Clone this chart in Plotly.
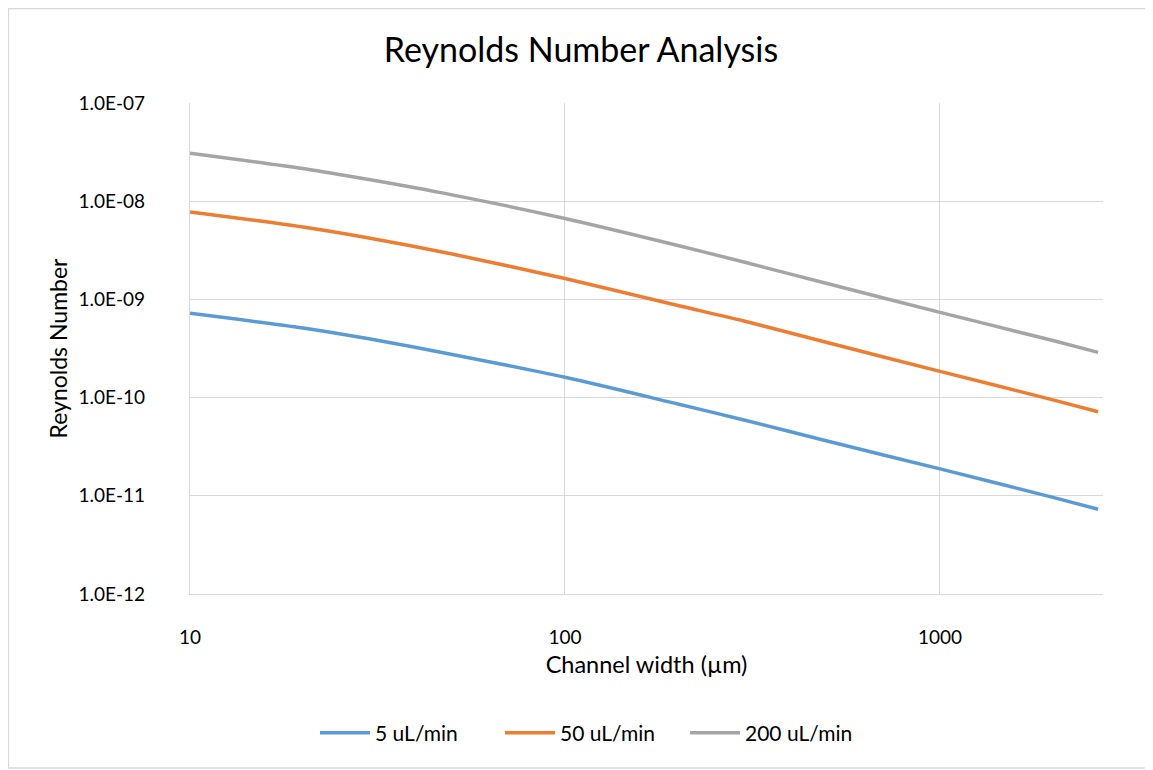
import plotly.graph_objects as go

# Channel width (µm)
widths = [10, 20, 30, 50, 100, 200, 300, 500, 1000, 2000, 2640]

# Reynolds numbers
re_5 = [7.21e-10, 5.12e-10, 3.97e-10, 2.75e-10, 1.61e-10, 8.61e-11, 5.92e-11, 3.61e-11, 1.88e-11, 9.64e-12, 7.30e-12]
re_50 = [7.76e-9, 5.46e-9, 4.22e-9, 2.90e-9, 1.63e-9, 8.67e-10, 6.03e-10, 3.64e-10, 1.85e-10, 9.48e-11, 7.18e-11]
re_200 = [3.08e-8, 2.15e-8, 1.66e-8, 1.16e-8, 6.67e-9, 3.54e-9, 2.40e-9, 1.45e-9, 7.38e-10, 3.81e-10, 2.89e-10]

series_names = ["5 uL/min", "50 uL/min", "200 uL/min"]
series_colors = ["#5B9BD5", "#ED7D31", "#A5A5A5"]

y_tickvals = [1e-12, 1e-11, 1e-10, 1e-9, 1e-8, 1e-7]
y_ticktext = ["1.0E-12", "1.0E-11", "1.0E-10", "1.0E-09", "1.0E-08", "1.0E-07"]
x_tickvals = [10, 100, 1000]
x_ticktext = ["10", "100", "1000"]

FONT = "Lato, Carlito, 'Liberation Sans', sans-serif"

# page has an 8px body margin: figure occupies page x 8..1153, y 8..770
W, H = 1145, 762
L, T = 182, 95
PW, PH = 913, 491

fig = go.Figure()
for name, vals, col in zip(series_names, [re_5, re_50, re_200], series_colors):
    fig.add_trace(go.Scatter(
        x=widths, y=vals, mode="lines", name=name,
        line=dict(color=col, width=3.5, shape="spline", smoothing=0.8),
    ))

fig.update_layout(
    width=W, height=H,
    paper_bgcolor="white", plot_bgcolor="white",
    margin=dict(l=L, r=W - L - PW, t=T, b=H - T - PH),
    font=dict(family=FONT, color="#000000", size=19),
    title=dict(text="Reynolds Number Analysis", x=(573 - L) / PW, xref="paper", xanchor="center",
               y=1 - 42 / H, yanchor="middle", yref="container",
               font=dict(family=FONT, size=34, color="#000000")),
    showlegend=True,
    legend=dict(orientation="h", x=(307 - L) / PW, xanchor="left",
                y=-(725 - (T + PH)) / PH, yanchor="middle",
                font=dict(family=FONT, size=21, color="#000000"),
                itemwidth=50, entrywidth=120, entrywidthmode="pixels", tracegroupgap=0),
)

fig.update_xaxes(
    type="log", range=[1, 3.4347],
    tickvals=x_tickvals, ticktext=x_ticktext,
    showgrid=True, gridcolor="#D9D9D9", gridwidth=1.3,
    showline=True, linecolor="#D9D9D9", linewidth=1.3, mirror=False,
    ticks="", ticklabelstandoff=26,
    title=dict(text="Channel width (µm)", font=dict(family=FONT, size=23.5), standoff=9),
    zeroline=False,
)
fig.update_yaxes(
    type="log", range=[-12, -7],
    tickvals=y_tickvals, ticktext=y_ticktext,
    showgrid=True, gridcolor="#D9D9D9", gridwidth=1.3,
    showline=True, linecolor="#D9D9D9", linewidth=1.3,
    ticks="", ticklabelstandoff=40,
    title=dict(text="Reynolds Number", font=dict(family=FONT, size=23), standoff=4),
    zeroline=False,
)

# outer chart border
fig.add_shape(type="rect", xref="paper", yref="paper",
              x0=(0.5 - L) / PW, x1=(1140 - L) / PW,
              y0=-(760 - (T + PH)) / PH, y1=(T + PH - 0.5) / PH,
              line=dict(color="#D9D9D9", width=1.3), fillcolor="rgba(0,0,0,0)", layer="below")

fig.write_html("out.html")
